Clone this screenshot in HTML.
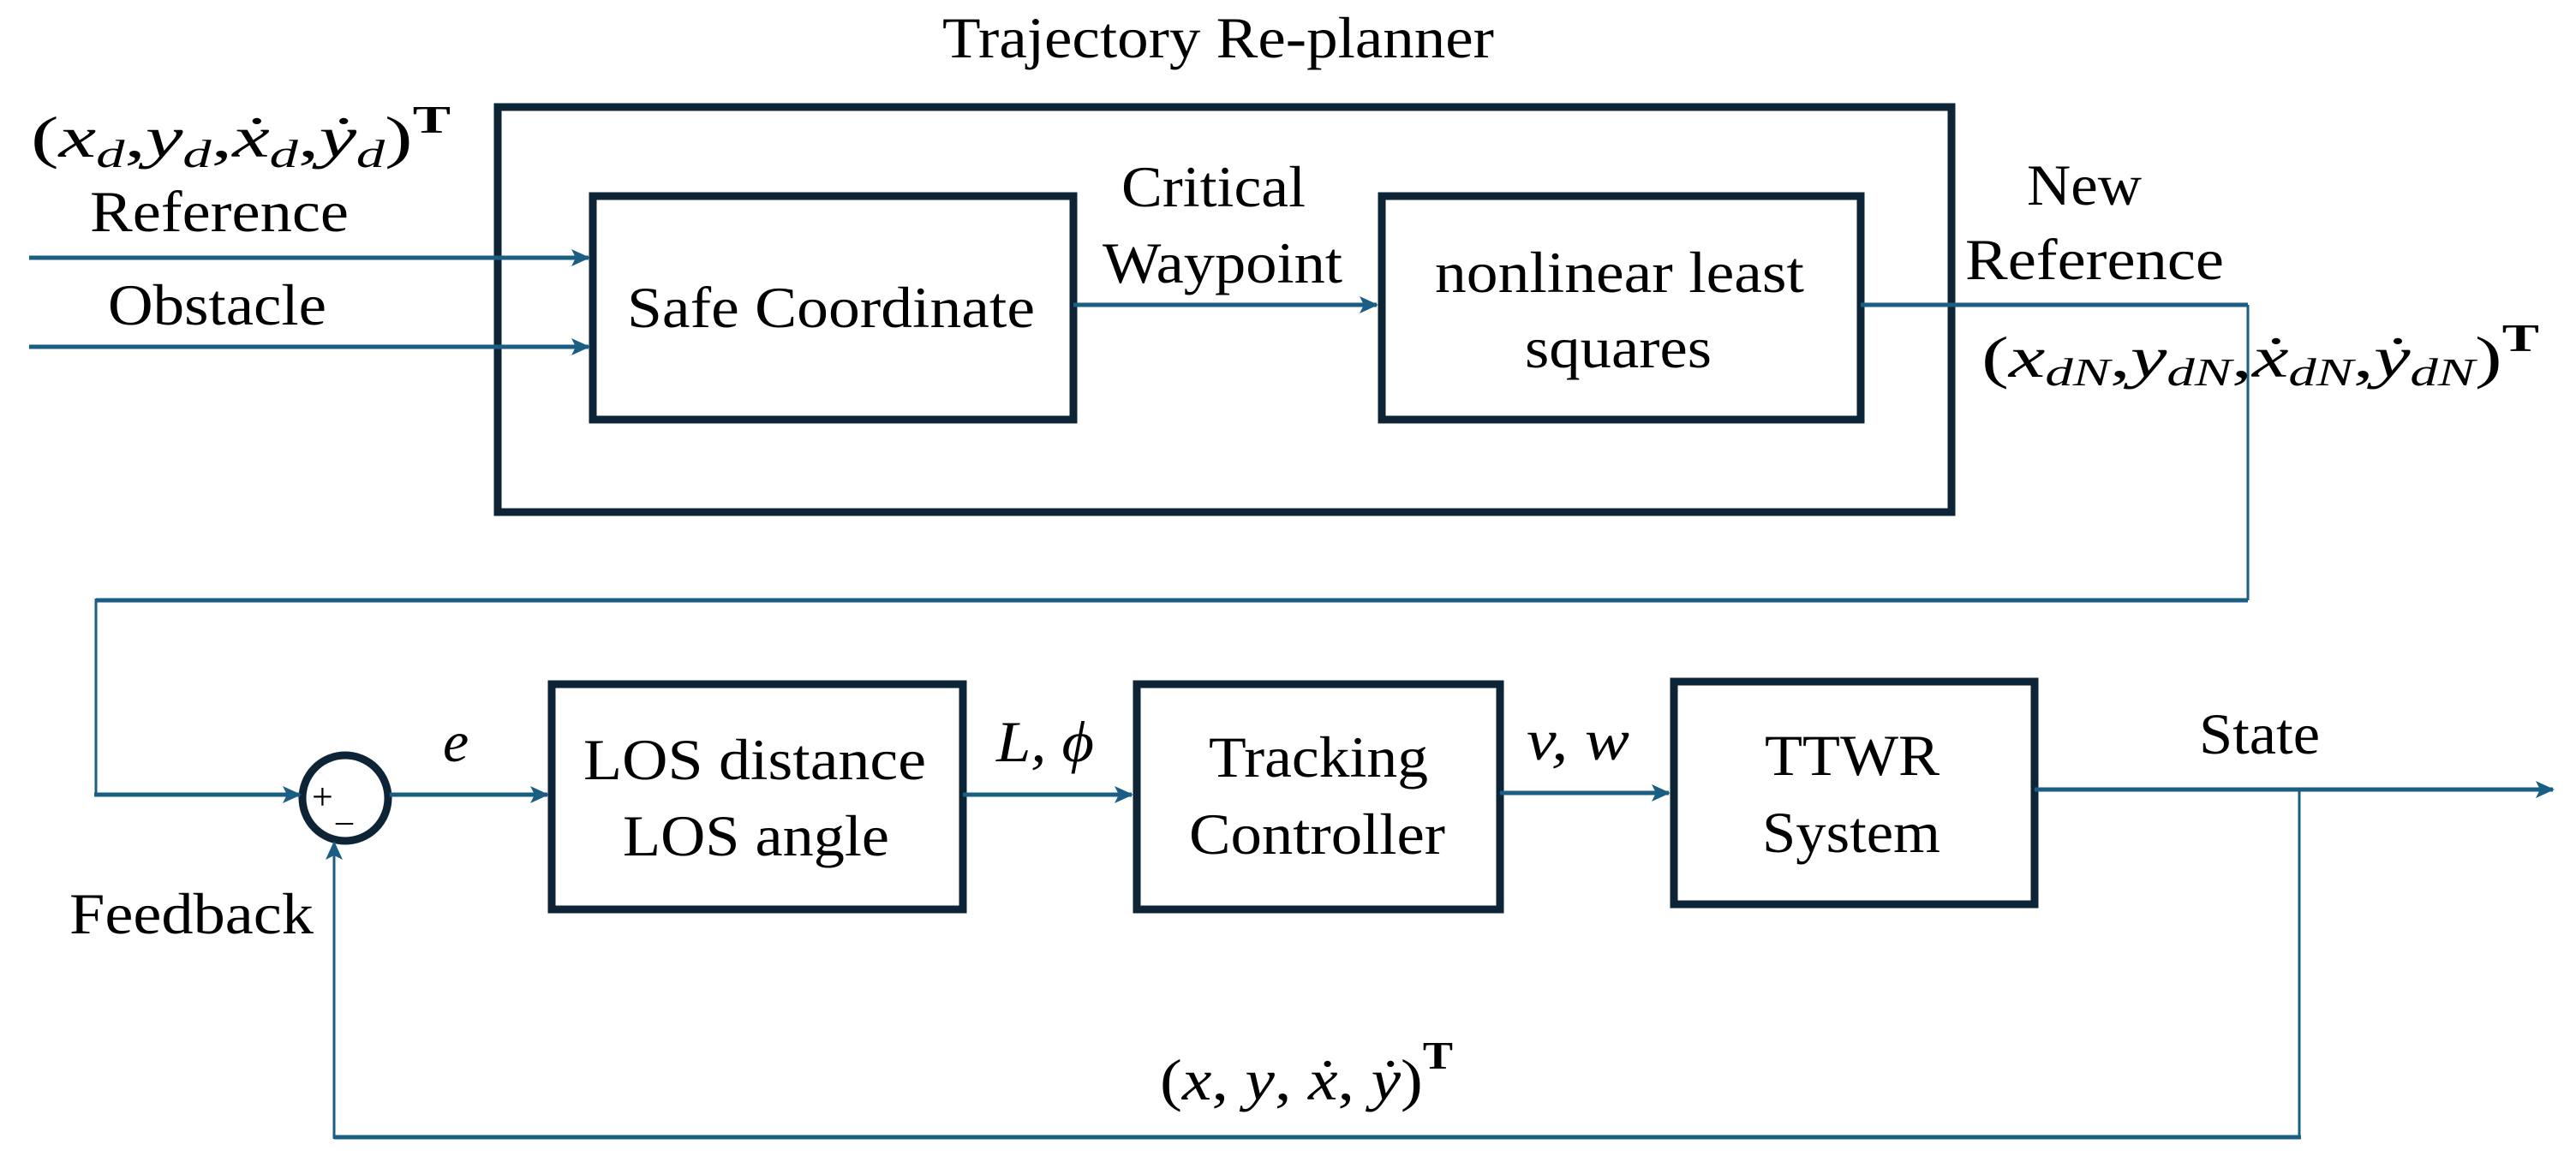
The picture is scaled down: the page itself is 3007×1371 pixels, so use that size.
<!DOCTYPE html>
<html><head><meta charset="utf-8"><style>
html,body{margin:0;padding:0;background:#fff;}
svg{display:block;}
text{font-family:"Liberation Serif",serif;fill:#000;}
.m{font-style:italic;}
</style></head><body>
<svg width="3007" height="1371" viewBox="0 0 3007 1371" xmlns="http://www.w3.org/2000/svg">
<defs>
<marker id="a" markerWidth="22" markerHeight="20" refX="20" refY="10" orient="auto" markerUnits="userSpaceOnUse">
<path d="M0,0 L22,10 L0,20 L5,10 Z" fill="#1b5e83"/>
</marker>
</defs>
<g fill="none" stroke="#0c2436" stroke-width="9">
<rect x="581" y="125" width="1697" height="473"/>
<rect x="692" y="229" width="561" height="261"/>
<rect x="1613" y="229" width="559" height="261"/>
<rect x="644" y="799" width="480" height="263"/>
<rect x="1327" y="799" width="424" height="263"/>
<rect x="1954" y="796" width="421" height="260"/>
<ellipse cx="403" cy="932" rx="50" ry="50"/>
</g>
<g fill="none" stroke="#1b5e83" stroke-width="5">
<line x1="34" y1="301" x2="687" y2="301" marker-end="url(#a)"/>
<line x1="34" y1="405" x2="687" y2="405" marker-end="url(#a)"/>
<line x1="1253" y1="356" x2="1607" y2="356" marker-end="url(#a)"/>
<polyline points="2172,356 2624,356" />
<polyline points="2624,356 2624,701" stroke-width="3"/>
<polyline points="2624,701 112,701" />
<polyline points="112,699 112,928" stroke-width="3"/>
<line x1="110" y1="928" x2="350" y2="928" marker-end="url(#a)"/>
<line x1="455" y1="928" x2="639" y2="928" marker-end="url(#a)"/>
<line x1="1124" y1="928" x2="1321" y2="928" marker-end="url(#a)"/>
<line x1="1751" y1="926" x2="1948" y2="926" marker-end="url(#a)"/>
<line x1="2375" y1="922" x2="2980" y2="922" marker-end="url(#a)"/>
<polyline points="2684,922 2684,1330" stroke-width="3"/>
<polyline points="2686,1328 390,1328"/>
<line x1="390" y1="1330" x2="390" y2="984" stroke-width="3" marker-end="url(#a)"/>
</g>
<g font-size="68">
<text x="1100" y="67" textLength="644" lengthAdjust="spacingAndGlyphs">Trajectory Re-planner</text>
<text x="105" y="270" textLength="302" lengthAdjust="spacingAndGlyphs">Reference</text>
<text x="126" y="379" textLength="255" lengthAdjust="spacingAndGlyphs">Obstacle</text>
<text x="732" y="382" textLength="476" lengthAdjust="spacingAndGlyphs">Safe Coordinate</text>
<text x="1309" y="241" textLength="215" lengthAdjust="spacingAndGlyphs">Critical</text>
<text x="1287" y="330" textLength="280" lengthAdjust="spacingAndGlyphs">Waypoint</text>
<text x="1675" y="341" textLength="431" lengthAdjust="spacingAndGlyphs">nonlinear least</text>
<text x="1780" y="429" textLength="218" lengthAdjust="spacingAndGlyphs">squares</text>
<text x="2366" y="239" textLength="134" lengthAdjust="spacingAndGlyphs">New</text>
<text x="2294" y="326" textLength="302" lengthAdjust="spacingAndGlyphs">Reference</text>
<text x="681" y="910" textLength="400" lengthAdjust="spacingAndGlyphs">LOS distance</text>
<text x="727" y="999" textLength="311" lengthAdjust="spacingAndGlyphs">LOS angle</text>
<text x="1411" y="907" textLength="256" lengthAdjust="spacingAndGlyphs">Tracking</text>
<text x="1388" y="997" textLength="299" lengthAdjust="spacingAndGlyphs">Controller</text>
<text x="2060" y="905" textLength="204" lengthAdjust="spacingAndGlyphs">TTWR</text>
<text x="2057" y="995" textLength="208" lengthAdjust="spacingAndGlyphs">System</text>
<text x="2567" y="880" textLength="141" lengthAdjust="spacingAndGlyphs">State</text>
<text x="81" y="1090" textLength="285" lengthAdjust="spacingAndGlyphs">Feedback</text>
</g>
<g font-size="68">
<text x="517" y="889" class="m">e</text>
<text x="1163" y="889" class="m" textLength="114" lengthAdjust="spacingAndGlyphs">L, ϕ</text>
<text x="1782" y="887" class="m" textLength="120" lengthAdjust="spacingAndGlyphs">v, w</text>
</g>
<text x="364" y="945" font-size="44">+</text>
<text x="392" y="958" font-size="40">_</text>
<!-- formulas -->
<text x="36" y="183" font-size="68" textLength="490" lengthAdjust="spacingAndGlyphs">(<tspan class="m">x</tspan><tspan class="m" font-size="46" dy="12">d</tspan><tspan dy="-12">,</tspan><tspan class="m">y</tspan><tspan class="m" font-size="46" dy="12">d</tspan><tspan dy="-12">,</tspan><tspan class="m">ẋ</tspan><tspan class="m" font-size="46" dy="12">d</tspan><tspan dy="-12">,</tspan><tspan class="m">ẏ</tspan><tspan class="m" font-size="46" dy="12">d</tspan><tspan dy="-12">)</tspan><tspan font-size="46" font-weight="bold" dy="-28">T</tspan></text>
<text x="2313" y="440" font-size="68" textLength="651" lengthAdjust="spacingAndGlyphs">(<tspan class="m">x</tspan><tspan class="m" font-size="46" dy="10">dN</tspan><tspan dy="-10">,</tspan><tspan class="m">y</tspan><tspan class="m" font-size="46" dy="10">dN</tspan><tspan dy="-10">,</tspan><tspan class="m">ẋ</tspan><tspan class="m" font-size="46" dy="10">dN</tspan><tspan dy="-10">,</tspan><tspan class="m">ẏ</tspan><tspan class="m" font-size="46" dy="10">dN</tspan><tspan dy="-10">)</tspan><tspan font-size="46" font-weight="bold" dy="-30">T</tspan></text>
<text x="1354" y="1284" font-size="68" textLength="342" lengthAdjust="spacingAndGlyphs">(<tspan class="m">x</tspan>, <tspan class="m">y</tspan>, <tspan class="m">ẋ</tspan>, <tspan class="m">ẏ</tspan>)<tspan font-size="46" font-weight="bold" dy="-36">T</tspan></text>
</svg>
</body></html>
